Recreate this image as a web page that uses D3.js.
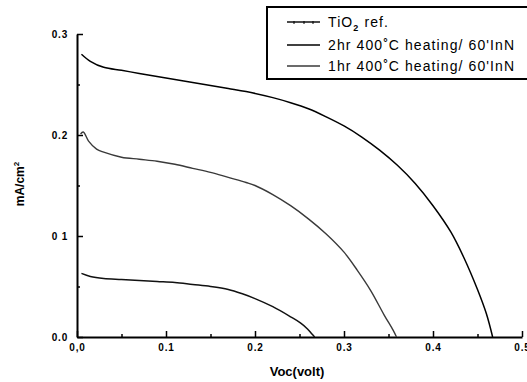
<!DOCTYPE html>
<html><head><meta charset="utf-8">
<script src="https://cdn.jsdelivr.net/npm/d3@7"></script>
<style>body{margin:0;background:#fff}svg{display:block}</style>
</head><body>
<svg id="c" width="527" height="382"></svg>
<script>
const xTicks = [0.0, 0.1, 0.2, 0.3, 0.4, 0.5];
const xTickLabels = ["0,0", "0.1", "0.2", "0.3", "0.4", "0.5"];
const yTicks = [0.0, 0.1, 0.2, 0.3];
const yTickLabels = ["0.0", "0 1", "0.2", "0.3"];
const seriesNames = ["TiO2 ref.", "2hr 400°C heating/ 60'InN", "1hr 400°C heating/ 60'InN"];

const tio2V = [0.005,0.015,0.03,0.05,0.07,0.09,0.11,0.13,0.15,0.17,0.185,0.20,0.22,0.24,0.251,0.259,0.264,0.267];
const tio2J = [0.063,0.060,0.058,0.057,0.056,0.055,0.054,0.052,0.050,0.047,0.043,0.038,0.030,0.020,0.014,0.008,0.003,0.0];

const h2V = [0.005,0.015,0.03,0.05,0.07,0.09,0.11,0.13,0.15,0.17,0.19,0.22,0.24,0.26,0.28,0.30,0.32,0.34,0.36,0.38,0.40,0.42,0.435,0.45,0.46,0.467];
const h2J = [0.280,0.273,0.267,0.264,0.261,0.258,0.255,0.252,0.249,0.246,0.243,0.237,0.232,0.226,0.218,0.209,0.198,0.185,0.170,0.152,0.130,0.104,0.078,0.047,0.023,0.0];

const h1V = [0.004,0.007,0.013,0.022,0.03,0.05,0.07,0.09,0.11,0.13,0.15,0.17,0.19,0.20,0.22,0.24,0.26,0.28,0.30,0.315,0.33,0.345,0.355,0.359];
const h1J = [0.201,0.203,0.194,0.186,0.183,0.178,0.176,0.174,0.171,0.167,0.163,0.158,0.153,0.150,0.141,0.130,0.117,0.102,0.084,0.066,0.046,0.022,0.007,0.0];

const svg = d3.select("#c");
const x = d3.scaleLinear().domain([0, 0.5]).range([77, 522]);
const y = d3.scaleLinear().domain([0, 0.3]).range([337, 34]);
const font = "Liberation Sans, Arial, sans-serif";

// minor ticks
const xMinor = [0.05, 0.15, 0.25, 0.35, 0.45];
const yMinor = [0.05, 0.15, 0.25];
svg.append("g").attr("transform","translate(0,337)")
  .call(d3.axisBottom(x).tickValues(xMinor).tickSize(-3).tickFormat(""))
  .call(g=>g.select(".domain").remove())
  .call(g=>g.selectAll("line").attr("stroke","#000").attr("stroke-width",1.5));
svg.append("g").attr("transform","translate(77,0)")
  .call(d3.axisLeft(y).tickValues(yMinor).tickSize(-3).tickFormat(""))
  .call(g=>g.select(".domain").remove())
  .call(g=>g.selectAll("line").attr("stroke","#000").attr("stroke-width",1.5));

// major axes
const xa = svg.append("g").attr("transform","translate(0,337)")
  .call(d3.axisBottom(x).tickValues(xTicks).tickSizeInner(-6).tickSizeOuter(0).tickPadding(6)
        .tickFormat((d,i)=>xTickLabels[i]));
xa.select(".domain").attr("stroke","#000").attr("stroke-width",2);
xa.selectAll("line").attr("stroke","#000").attr("stroke-width",1.5);
xa.selectAll("text").attr("font-family",font).attr("font-size",10).attr("font-weight","bold")
  .attr("letter-spacing",0.8).attr("fill","#000").attr("dy","0.75em");

const ya = svg.append("g").attr("transform","translate(77,0)")
  .call(d3.axisLeft(y).tickValues(yTicks).tickSizeInner(-6).tickSizeOuter(0).tickPadding(9)
        .tickFormat((d,i)=>yTickLabels[i]));
ya.select(".domain").attr("stroke","#000").attr("stroke-width",2);
ya.selectAll("line").attr("stroke","#000").attr("stroke-width",1.5);
ya.selectAll("text").attr("font-family",font).attr("font-size",10).attr("font-weight","bold")
  .attr("letter-spacing",0.8).attr("fill","#000");

// curves
const series = [
  {V:tio2V, J:tio2J, color:"#111", w:1.5},
  {V:h2V, J:h2J, color:"#000", w:1.5},
  {V:h1V, J:h1J, color:"#3a3a3a", w:1.4}
];
const line = d3.line().x(d=>x(d[0])).y(d=>y(d[1])).curve(d3.curveCatmullRom.alpha(0.5));
series.forEach(s=>{
  svg.append("path").datum(s.V.map((v,i)=>[v,s.J[i]]))
    .attr("d", line)
    .attr("fill","none").attr("stroke",s.color).attr("stroke-width",s.w);
});

// legend
const lg = svg.append("g");
lg.append("rect").attr("x",267).attr("y",7).attr("width",270).attr("height",72)
  .attr("fill","#fff").attr("stroke","#000").attr("stroke-width",2);
const rowsY = [22, 45, 66];
rowsY.forEach((ry,i)=>{
  lg.append("line").attr("x1",287).attr("x2",320).attr("y1",ry).attr("y2",ry)
    .attr("stroke",series[i].color).attr("stroke-width",1.5);
  const t = lg.append("text").attr("x",328).attr("y",ry+5).attr("font-family",font)
    .attr("font-size",14).attr("letter-spacing",1.1).attr("fill","#000");
  if(i===0){
    t.append("tspan").text("TiO");
    t.append("tspan").attr("font-size",9).attr("font-weight","bold").attr("dy",4).text("2");
    t.append("tspan").attr("dy",-4).text(" ref.");
  } else {
    const parts = seriesNames[i].split("°");
    t.append("tspan").text(parts[0]);
    t.append("tspan").attr("font-size",11).attr("font-weight","bold").attr("dy",-4).text("°");
    t.append("tspan").attr("dy",4).text(parts[1]);
  }
});
// TiO2 legend sample small marks
[294, 304, 313].forEach(px=>{
  lg.append("line").attr("x1",px).attr("x2",px).attr("y1",21).attr("y2",24).attr("stroke","#000").attr("stroke-width",1);
});

// axis titles
svg.append("text").attr("transform","translate(24,184) rotate(-90)").attr("text-anchor","middle")
  .attr("font-family",font).attr("font-size",12).attr("font-weight","bold").attr("fill","#000")
  .call(t=>{t.append("tspan").text("mA/cm");
            t.append("tspan").attr("font-size",8).attr("dy",-5).text("2");});
svg.append("text").attr("x",297).attr("y",376).attr("text-anchor","middle")
  .attr("font-family",font).attr("font-size",13).attr("font-weight","bold").attr("fill","#000")
  .text("Voc(volt)");
</script>
</body></html>
